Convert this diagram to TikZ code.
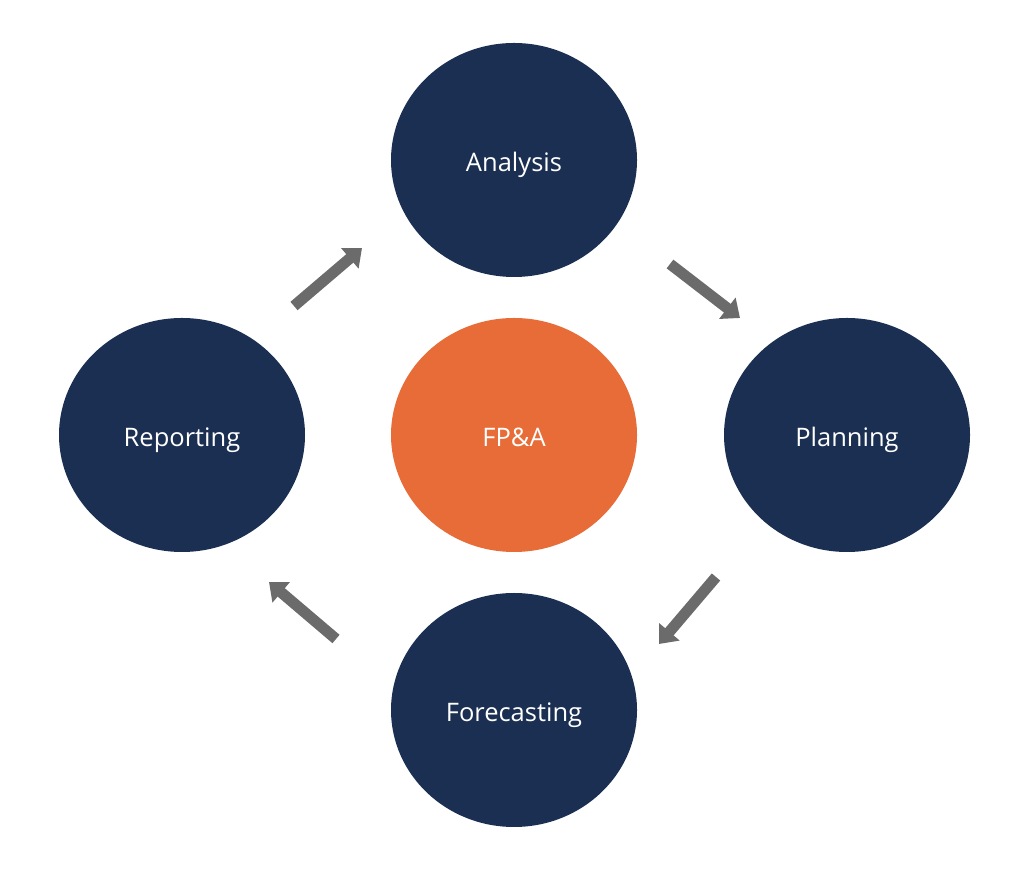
\documentclass[tikz,border=0pt]{standalone}
\usepackage{fontspec}
\setmainfont{Open Sans}
\usetikzlibrary{arrows.meta,shapes.geometric}
\definecolor{navy}{HTML}{1B2F52}
\definecolor{fporange}{HTML}{E86C37}
\definecolor{arrgrey}{HTML}{6B6B6B}
\tikzset{
  blob/.style={ellipse, fill=navy, minimum width=246pt, minimum height=234pt, inner sep=0pt,
    text=white, font=\fontsize{25.5}{30}\selectfont, text height=29pt, text depth=6pt},
  core/.style={blob, fill=fporange},
  flow/.style={draw=arrgrey, line width=11pt, -{Triangle[width=26pt,length=16pt]}}
}
\begin{document}
\begin{tikzpicture}[x=1pt,y=1pt]
\useasboundingbox (0,0) rectangle (1024,877);
\node[blob] (analysis) at (514,877-160) {Analysis};
\node[core] (fpa) at (514,877-435) {FP\&A};
\node[blob] (reporting) at (182,877-435) {Reporting};
\node[blob] (planning) at (847,877-435) {Planning};
\node[blob] (forecasting) at (514,877-710) {Forecasting};
\coordinate (a1) at (670,877-264);
\coordinate (a2) at (740,877-318);
\coordinate (b1) at (716,877-577);
\coordinate (b2) at (659,877-644);
\coordinate (c1) at (336,877-639);
\coordinate (c2) at (269,877-582);
\coordinate (d1) at (294,877-306);
\coordinate (d2) at (362,877-248);
\draw[flow] (a1) -- (a2);
\draw[flow] (b1) -- (b2);
\draw[flow] (c1) -- (c2);
\draw[flow] (d1) -- (d2);
\end{tikzpicture}
\end{document}
